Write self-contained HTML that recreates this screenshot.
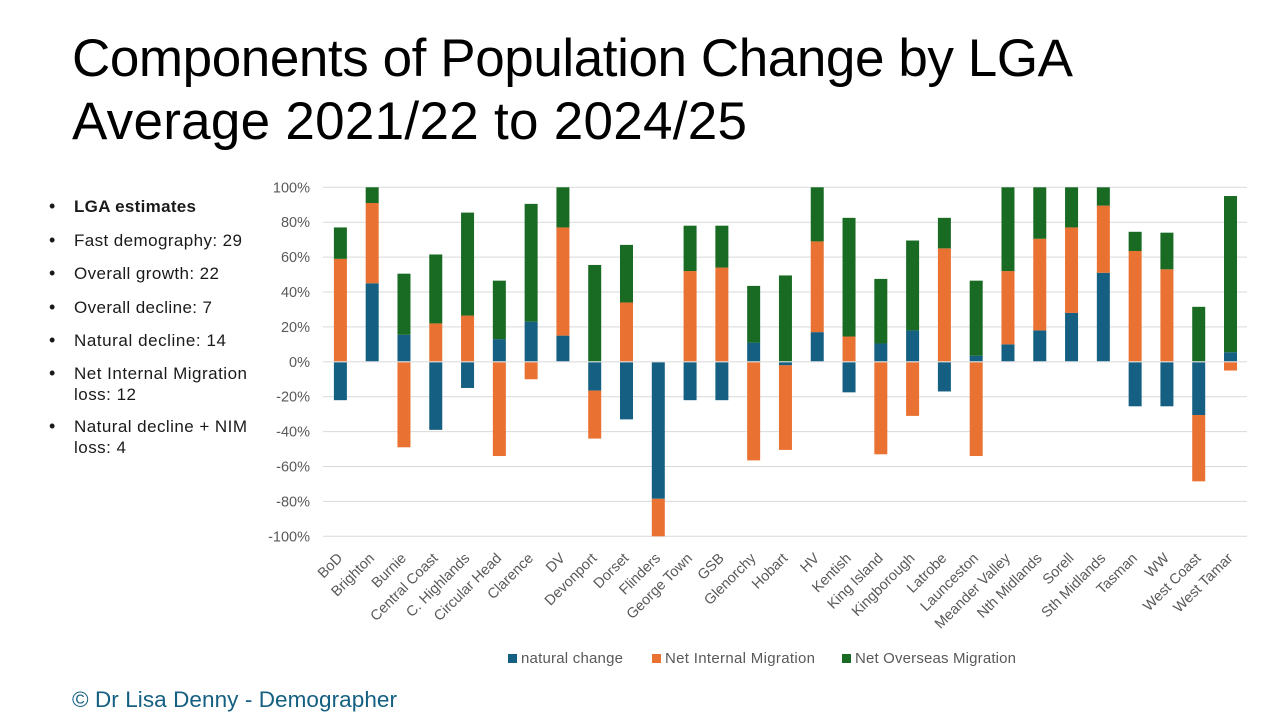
<!DOCTYPE html>
<html lang="en">
<head>
<meta charset="utf-8">
<title>Components of Population Change by LGA</title>
<style>
html,body{margin:0;padding:0;background:#fff;width:1280px;height:720px;overflow:hidden}
svg{display:block;font-family:"Liberation Sans",sans-serif}
.b{font-size:17px;fill:#1a1a1a}
.d{font-size:18px;fill:#1a1a1a}
</style>
</head>
<body>
<svg id="slide" width="1280" height="720" viewBox="0 0 1280 720" xmlns="http://www.w3.org/2000/svg">
  <rect x="0" y="0" width="1280" height="720" fill="#ffffff"/>
  <g font-size="53" fill="#000000">
    <text x="72" y="76" textLength="1001" lengthAdjust="spacing">Components of Population Change by LGA</text>
    <text x="72" y="139" textLength="675" lengthAdjust="spacing">Average 2021/22 to 2024/25</text>
  </g>
  <g>
    <text class="d" x="49" y="212">•</text>
    <text class="b" x="74" y="212" font-weight="bold" textLength="122" lengthAdjust="spacing">LGA estimates</text>
    <text class="d" x="49" y="246">•</text>
    <text class="b" x="74" y="246" textLength="168" lengthAdjust="spacing">Fast demography: 29</text>
    <text class="d" x="49" y="279">•</text>
    <text class="b" x="74" y="279" textLength="145" lengthAdjust="spacing">Overall growth: 22</text>
    <text class="d" x="49" y="313">•</text>
    <text class="b" x="74" y="313" textLength="138" lengthAdjust="spacing">Overall decline: 7</text>
    <text class="d" x="49" y="346">•</text>
    <text class="b" x="74" y="346" textLength="152" lengthAdjust="spacing">Natural decline: 14</text>
    <text class="d" x="49" y="379">•</text>
    <text class="b" x="74" y="379" textLength="173" lengthAdjust="spacing">Net Internal Migration</text>
    <text class="b" x="74" y="400" textLength="62" lengthAdjust="spacing">loss: 12</text>
    <text class="d" x="49" y="432">•</text>
    <text class="b" x="74" y="432" textLength="173" lengthAdjust="spacing">Natural decline + NIM</text>
    <text class="b" x="74" y="453" textLength="52" lengthAdjust="spacing">loss: 4</text>
  </g>
  <g id="chart"></g>
  <text x="72" y="707" font-size="22.5" fill="#156082" textLength="325" lengthAdjust="spacing">© Dr Lisa Denny - Demographer</text>
</svg>
<script>
const categories = ["BoD","Brighton","Burnie","Central Coast","C. Highlands","Circular Head","Clarence","DV","Devonport","Dorset","Flinders","George Town","GSB","Glenorchy","Hobart","HV","Kentish","King Island","Kingborough","Latrobe","Launceston","Meander Valley","Nth Midlands","Sorell","Sth Midlands","Tasman","WW","West Coast","West Tamar"];
const naturalChange = [-22,45,15.5,-39,-15,13,23,15,-16.5,-33,-78.5,-22,-22,11,-2,17,-17.5,10.5,18,-17,3.5,10,18,28,51,-25.5,-25.5,-30.5,5.5];
const netInternalMigration = [59,46,-49,22,26.5,-54,-10,62,-27.5,34,-21.5,52,54,-56.5,-48.5,52,14.5,-53,-31,65,-54,42,52.5,49,38.5,63.5,53,-38,-5];
const netOverseasMigration = [18,9,35,39.5,59,33.5,67.5,23,55.5,33,0,26,24,32.5,49.5,31,68,37,51.5,17.5,43,48,29.5,23,10.5,11,21,31.5,89.5];
const tickValues = [100,80,60,40,20,0,-20,-40,-60,-80,-100];
const seriesNames = ["natural change","Net Internal Migration","Net Overseas Migration"];

const NS = "http://www.w3.org/2000/svg";
const chart = document.getElementById("chart");
const plotLeft = 323, plotRight = 1247, plotTop = 187.3, plotBottom = 536.3;
const bandLeft = 324.5, bandRight = 1246.4;
const seriesValues = [naturalChange, netInternalMigration, netOverseasMigration];
const seriesColors = ["#156082", "#E97132", "#196B24"];
const legendSwatchX = [508, 652, 842];
const legendTextLengths = [102, 150, 161];

function yScale(v) { return plotTop + (100 - v) / 200 * (plotBottom - plotTop); }
function xCenter(i) { return bandLeft + (i + 0.5) * (bandRight - bandLeft) / categories.length; }
function make(tag, attrs, parent) {
  const el = document.createElementNS(NS, tag);
  for (const k in attrs) el.setAttribute(k, attrs[k]);
  parent.appendChild(el);
  return el;
}

tickValues.forEach(function (t) {
  const line = make("line", {x1: plotLeft, x2: plotRight, y1: yScale(t), y2: yScale(t), stroke: "#d9d9d9", "stroke-width": 1}, chart);
  
  
  const label = make("text", {x: 310, y: yScale(t) + 5, "text-anchor": "end", "font-size": 14.5, fill: "#595959"}, chart);
  label.textContent = t + "%";
  
  
});

const barWidth = 13;
categories.forEach(function (name, i) {
  let pos = 0, neg = 0;
  seriesValues.forEach(function (vals, s) {
    const v = vals[i];
    let start, end;
    if (v >= 0) { start = pos; end = pos + v; pos = end; }
    else { start = neg; end = neg + v; neg = end; }
    const y1 = yScale(Math.max(start, end)), y2 = yScale(Math.min(start, end));
    const bar = make("rect", {x: xCenter(i) - barWidth / 2, y: y1, width: barWidth, height: y2 - y1, fill: seriesColors[s]}, chart);
    
    
  });
  const cx = xCenter(i) + 3, cy = 559;
  const lab = make("text", {x: cx, y: cy, "text-anchor": "end", "font-size": 14.5, fill: "#595959", transform: "rotate(-45 " + cx + " " + cy + ")"}, chart);
  lab.textContent = name;
  
  
});

const axisLine = make("line", {x1: plotLeft, x2: plotRight, y1: yScale(0), y2: yScale(0), stroke: "#e4e4e4", "stroke-width": 1.2}, chart);



seriesNames.forEach(function (name, s) {
  const swatch = make("rect", {x: legendSwatchX[s], y: 654, width: 9, height: 9, fill: seriesColors[s]}, chart);
  
  
  const txt = make("text", {x: legendSwatchX[s] + 13, y: 663, "font-size": 15, fill: "#595959", textLength: legendTextLengths[s], lengthAdjust: "spacing"}, chart);
  txt.textContent = name;
  
  
});
</script>
</body>
</html>
